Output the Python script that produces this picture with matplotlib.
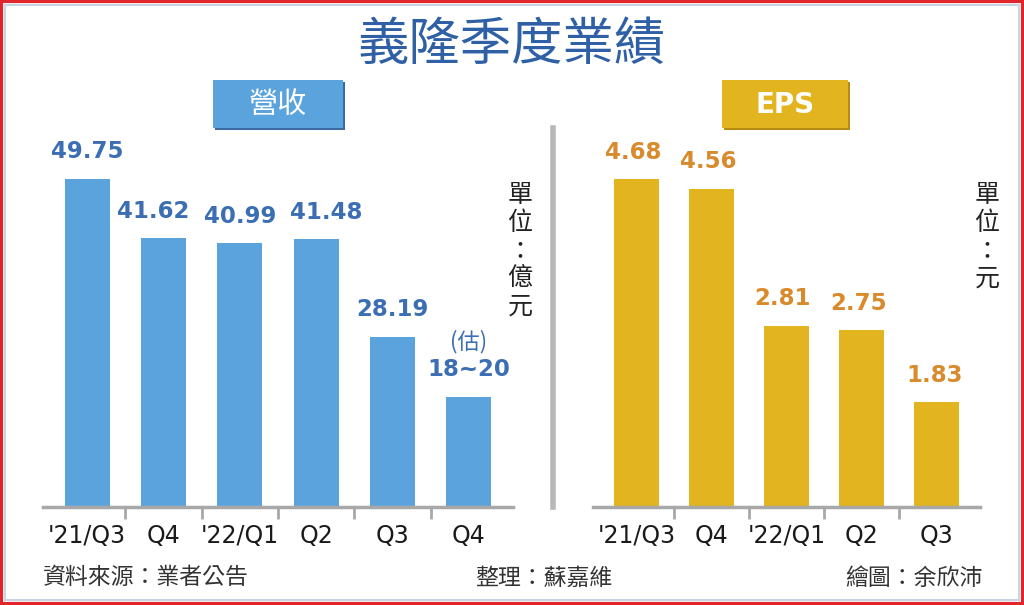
import matplotlib
matplotlib.use("Agg")
import matplotlib.pyplot as plt
from matplotlib.patches import Rectangle

plt.rcParams['font.family'] = ['DejaVu Sans', 'Noto Sans CJK TC']
CJK = ['Noto Sans CJK TC', 'DejaVu Sans']

# ---- data ----
rev_quarters = ["'21/Q3", "Q4", "'22/Q1", "Q2", "Q3", "Q4"]
rev_values = [49.75, 41.62, 40.99, 41.48, 28.19, 20]   # last bar = upper end of estimate
rev_labels = ["49.75", "41.62", "40.99", "41.48", "28.19", "18~20"]
rev_estimate_note = "(估)"

eps_quarters = ["'21/Q3", "Q4", "'22/Q1", "Q2", "Q3"]
eps_values = [4.68, 4.56, 2.81, 2.75, 1.83]
eps_labels = ["4.68", "4.56", "2.81", "2.75", "1.83"]

title = "義隆季度業績"
rev_title = "營收"
eps_title = "EPS"
rev_unit = "單位：億元"
eps_unit = "單位：元"
source = "資料來源：業者公告"
editor = "整理：蘇嘉維"
artist = "繪圖：余欣沛"

W, H = 1024, 605
BLUE = '#5ba3dd'
BLUE_TXT = '#3b6eb3'
GOLD = '#e2b420'
GOLD_TXT = '#d88a2c'
AXIS_GRAY = '#a8a8a8'


def fx(px):
    return px / W


def fy(py):
    return 1 - py / H


fig = plt.figure(figsize=(W / 100, H / 100), dpi=100)
fig.patch.set_facecolor('white')

# frame
fig.add_artist(Rectangle((0.001, 0.002), 0.998, 0.996, transform=fig.transFigure,
                         fill=False, edgecolor='#e0262b', lw=3))
fig.add_artist(Rectangle((fx(5), fy(600)), fx(1014), 595 / H, transform=fig.transFigure,
                         fill=False, edgecolor='#c9d3e3', lw=1.5))

fig.text(0.5, fy(45), title, ha='center', va='center', fontsize=37,
         fontweight='medium', color='#2f5fa5', family=CJK)


def panel(rect, values, quarters, labels, ylim, color, txt_color, nudge):
    ax = fig.add_axes(rect)
    x = list(range(len(values)))
    ax.bar(x, values, width=0.59, color=color, bottom=0)
    ax.set_xlim(-0.58, len(values) - 0.42)
    ax.set_ylim(*ylim)
    for s in ['top', 'right', 'left']:
        ax.spines[s].set_visible(False)
    ax.spines['bottom'].set_color(AXIS_GRAY)
    ax.spines['bottom'].set_linewidth(2.5)
    ax.set_yticks([])
    ax.set_xticks(x)
    ax.set_xticklabels(quarters, fontsize=17, color='#1a1a1a')
    ax.tick_params(axis='x', which='major', length=0, pad=12)
    ax.set_xticks([i + 0.5 for i in x[:-1]], minor=True)
    ax.tick_params(axis='x', which='minor', length=8.5, width=2, color=AXIS_GRAY)
    ax.patch.set_alpha(0)
    for i, (v, lab) in enumerate(zip(values, labels)):
        ax.annotate(lab, (i, v), xytext=(nudge[i] * 0.72, 27 * 0.72),
                    textcoords='offset points', ha='center', va='center',
                    fontsize=16.5, fontweight='bold', color=txt_color)
    return ax


ax1 = panel([fx(43), fy(507), fx(513 - 43), (507 - 130) / H], rev_values, rev_quarters,
            rev_labels, (5.0, 56.4), BLUE, BLUE_TXT, [0, -10, 0, 10, 0, 0])
ax1.annotate(rev_estimate_note, (5, rev_values[-1]), xytext=(0, 55 * 0.72),
             textcoords='offset points', ha='center', va='center',
             fontsize=16, color=BLUE_TXT, family=CJK)

ax2 = panel([fx(593), fy(507), fx(980 - 593), (507 - 130) / H], eps_values, eps_quarters,
            eps_labels, (0.49, 5.31), GOLD, GOLD_TXT, [-3, -3, -4, -3, -2])

# panel title boxes
for (x0, x1, txt, col, shade, weight, fam, fs) in [
        (213, 343, rev_title, BLUE, '#3b6aa3', 'normal', CJK, 21),
        (722, 848, eps_title, GOLD, '#b88a12', 'bold', ['DejaVu Sans'], 20)]:
    fig.add_artist(Rectangle((fx(x0 + 2), fy(130)), fx(x1 - x0), 48 / H,
                             transform=fig.transFigure, color=shade, lw=0))
    fig.add_artist(Rectangle((fx(x0), fy(128)), fx(x1 - x0), 48 / H,
                             transform=fig.transFigure, color=col, lw=0))
    fig.text(fx((x0 + x1) / 2), fy(105), txt, ha='center', va='center', fontsize=fs,
             fontweight=weight, color='white', family=fam)

# divider
fig.add_artist(plt.Line2D([fx(553), fx(553)], [fy(128), fy(507)], transform=fig.transFigure,
                          color='#b8b8b8', lw=4))

# vertical unit texts
for xc, unit in [(520, rev_unit), (987, eps_unit)]:
    for i, ch in enumerate(unit):
        fig.text(fx(xc), fy(195 + i * 28), ch, ha='center', va='center', fontsize=18,
                 color='#222222', family=CJK)

fig.text(fx(43), fy(578), source, ha='left', va='center', fontsize=16.5,
         color='#333333', family=CJK)
fig.text(fx(475), fy(578), editor, ha='left', va='center', fontsize=16.5,
         color='#333333', family=CJK)
fig.text(fx(982), fy(578), artist, ha='right', va='center', fontsize=16.5,
         color='#333333', family=CJK)

fig.savefig('out.png', dpi=100, facecolor='white')
